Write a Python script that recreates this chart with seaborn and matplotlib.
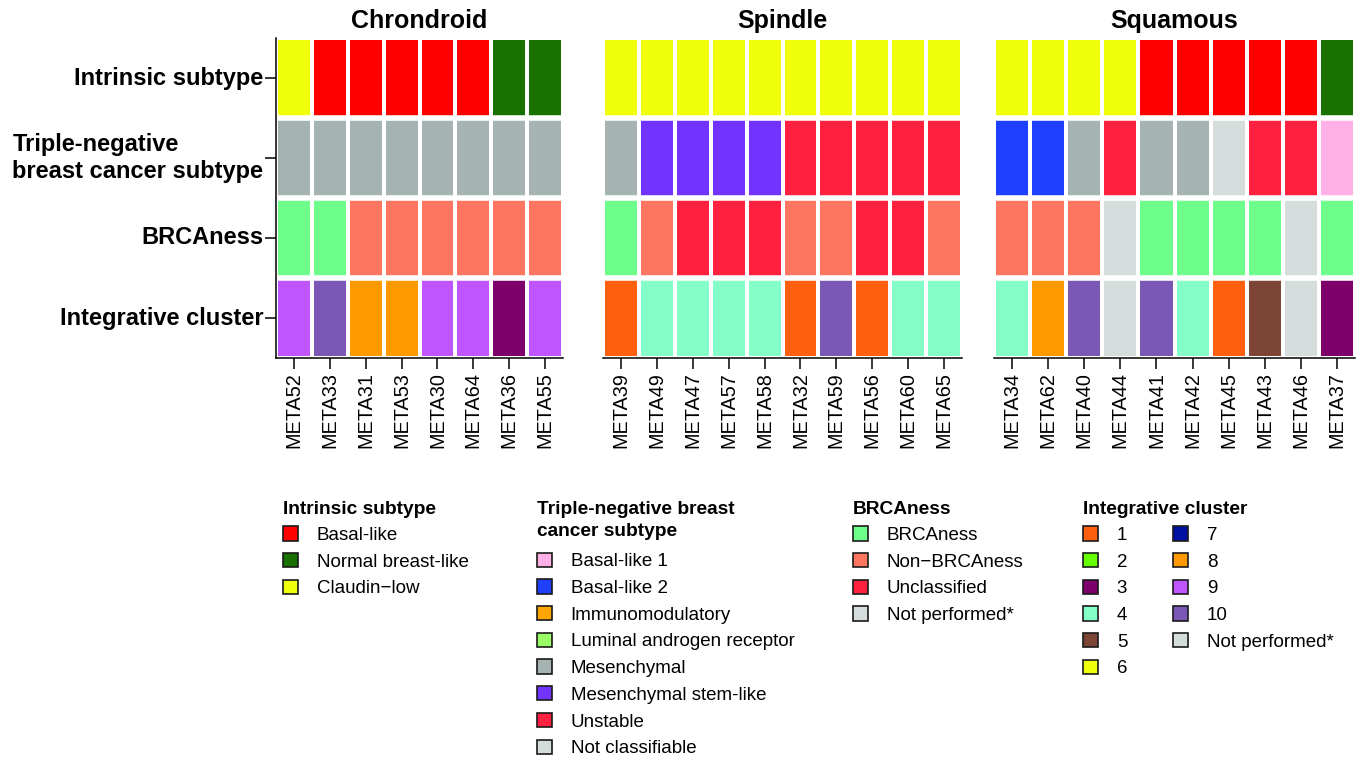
import numpy as np
import pandas as pd
import matplotlib
matplotlib.use("Agg")
import matplotlib.pyplot as plt
import seaborn as sns
from matplotlib.colors import ListedColormap
from matplotlib.patches import Patch

# ---- annotation tracks and groups -------------------------------------------
groups = ["Chrondroid", "Spindle", "Squamous"]
track_names = ["Intrinsic subtype", "Triple-negative\nbreast cancer subtype",
               "BRCAness", "Integrative cluster"]

chondroid_samples = ["META52", "META33", "META31", "META53", "META30", "META64", "META36", "META55"]
chondroid_intrinsic = ["Claudin−low", "Basal-like", "Basal-like", "Basal-like", "Basal-like",
                       "Basal-like", "Normal breast-like", "Normal breast-like"]
chondroid_tnbc = ["Mesenchymal"] * 8
chondroid_brca = ["BRCAness", "BRCAness", "Non−BRCAness", "Non−BRCAness", "Non−BRCAness",
                  "Non−BRCAness", "Non−BRCAness", "Non−BRCAness"]
chondroid_ic = ["9", "10", "8", "8", "9", "9", "3", "9"]

spindle_samples = ["META39", "META49", "META47", "META57", "META58", "META32", "META59",
                   "META56", "META60", "META65"]
spindle_intrinsic = ["Claudin−low"] * 10
spindle_tnbc = ["Mesenchymal", "Mesenchymal stem-like", "Mesenchymal stem-like",
                "Mesenchymal stem-like", "Mesenchymal stem-like", "Unstable", "Unstable",
                "Unstable", "Unstable", "Unstable"]
spindle_brca = ["BRCAness", "Non−BRCAness", "Unclassified", "Unclassified", "Unclassified",
                "Non−BRCAness", "Non−BRCAness", "Unclassified", "Unclassified", "Non−BRCAness"]
spindle_ic = ["1", "4", "4", "4", "4", "1", "10", "1", "4", "4"]

squamous_samples = ["META34", "META62", "META40", "META44", "META41", "META42", "META45",
                    "META43", "META46", "META37"]
squamous_intrinsic = ["Claudin−low", "Claudin−low", "Claudin−low", "Claudin−low", "Basal-like",
                      "Basal-like", "Basal-like", "Basal-like", "Basal-like", "Normal breast-like"]
squamous_tnbc = ["Basal-like 2", "Basal-like 2", "Mesenchymal", "Unstable", "Mesenchymal",
                 "Mesenchymal", "Not classifiable", "Unstable", "Unstable", "Basal-like 1"]
squamous_brca = ["Non−BRCAness", "Non−BRCAness", "Non−BRCAness", "Not performed*", "BRCAness",
                 "BRCAness", "BRCAness", "BRCAness", "Not performed*", "BRCAness"]
squamous_ic = ["4", "8", "10", "Not performed*", "10", "4", "1", "5", "Not performed*", "3"]

# ---- category colours ---------------------------------------------------------
intrinsic_colors = {"Basal-like": "#FF0000", "Normal breast-like": "#177000",
                    "Claudin−low": "#F0FF0A"}
tnbc_colors = {"Basal-like 1": "#FFB0E6", "Basal-like 2": "#2040FF",
               "Immunomodulatory": "#FFA500", "Luminal androgen receptor": "#99FF66",
               "Mesenchymal": "#A6B3B3", "Mesenchymal stem-like": "#7333FF",
               "Unstable": "#FF2040", "Not classifiable": "#D4DCDC"}
brca_colors = {"BRCAness": "#6EFF8A", "Non−BRCAness": "#FF7660",
               "Unclassified": "#FF2040", "Not performed*": "#D4DCDC"}
ic_colors = {"1": "#FF6010", "2": "#66FF00", "3": "#7E006B", "4": "#85FFC8",
             "5": "#7D4535", "6": "#F0FF0A", "7": "#0010A0", "8": "#FF9900",
             "9": "#C055FF", "10": "#7B57B5", "Not performed*": "#D4DCDC"}
track_colors = [intrinsic_colors, tnbc_colors, brca_colors, ic_colors]

panels = [
    (chondroid_samples, [chondroid_intrinsic, chondroid_tnbc, chondroid_brca, chondroid_ic]),
    (spindle_samples, [spindle_intrinsic, spindle_tnbc, spindle_brca, spindle_ic]),
    (squamous_samples, [squamous_intrinsic, squamous_tnbc, squamous_brca, squamous_ic]),
]

# one shared palette: every (track, category) pair gets an integer code
palette_keys = [(t, c) for t, cmap in enumerate(track_colors) for c in cmap]
palette = [track_colors[t][c] for t, c in palette_keys]
code_of = {k: i for i, k in enumerate(palette_keys)}
cmap = ListedColormap(palette)

# ---- figure -------------------------------------------------------------------
sns.set_style("ticks")
plt.rcParams["font.family"] = ["Liberation Sans", "DejaVu Sans"]
plt.rcParams["text.color"] = "black"
plt.rcParams["axes.labelcolor"] = "black"
plt.rcParams["axes.edgecolor"] = "black"
plt.rcParams["xtick.color"] = "black"
plt.rcParams["ytick.color"] = "black"

W, H = 1370, 762
fig = plt.figure(figsize=(W / 100, H / 100), dpi=100)
panel_px = [(276, 563), (603, 962), (994, 1355)]
top_px, bottom_px = 38, 358

for p, ((samples, tracks), group, (x0, x1)) in enumerate(zip(panels, groups, panel_px)):
    ax = fig.add_axes([x0 / W, 1 - bottom_px / H, (x1 - x0) / W, (bottom_px - top_px) / H])
    codes = pd.DataFrame(
        [[code_of[(t, v)] for v in vals] for t, vals in enumerate(tracks)],
        index=track_names, columns=samples)
    sns.heatmap(codes, ax=ax, cmap=cmap, vmin=-0.5, vmax=len(palette) - 0.5,
                cbar=False, linewidths=1.6, linecolor="white", square=False)
    for yline in range(1, len(track_names)):
        ax.axhline(yline, color="white", lw=4.0)
    ax.set_xlabel("")
    ax.set_ylabel("")
    ax.set_title(group, fontsize=18, fontweight="bold", pad=7, color="black")
    ax.spines["bottom"].set_visible(True)
    ax.spines["bottom"].set_linewidth(1.1)
    ax.spines["top"].set_visible(False)
    ax.spines["right"].set_visible(False)
    ax.tick_params(axis="x", length=8, width=1.1, pad=2, labelsize=14.3,
                   labelrotation=90, colors="black")
    if p == 0:
        ax.spines["left"].set_visible(True)
        ax.spines["left"].set_linewidth(1.1)
        ax.tick_params(axis="y", length=8, width=1.1, pad=1, labelsize=17,
                       labelrotation=0, colors="black")
        for lab in ax.get_yticklabels():
            lab.set_fontweight("bold")
            lab.set_multialignment("left")
    else:
        ax.spines["left"].set_visible(False)
        ax.set_yticks([])

# ---- legends ------------------------------------------------------------------
legend_titles = ["Intrinsic subtype", "Triple-negative breast\ncancer subtype",
                 "BRCAness", "Integrative cluster"]
legend_x_px = [283, 537, 853, 1083]
legend_title_gap = [6, 9, 6, 6]
legend_top_px = 501
for cols, title, lx, ncol, gap in zip(track_colors, legend_titles, legend_x_px,
                                      [1, 1, 1, 2], legend_title_gap):
    handles = [Patch(facecolor=c, edgecolor="#1a1a1a", linewidth=1.2, label=k)
               for k, c in cols.items()]
    leg = fig.legend(handles=handles, loc="upper left",
                     bbox_to_anchor=(lx / W, 1 - legend_top_px / H),
                     frameon=False, ncol=ncol, fontsize=13.5, title=title,
                     title_fontproperties={"weight": "bold", "size": 13.8},
                     alignment="left", handlelength=0.8, handleheight=0.8,
                     handletextpad=1.0, labelspacing=0.48, columnspacing=2.45,
                     borderpad=0, borderaxespad=0, labelcolor="black")
    leg.get_title().set_color("black")
    leg.get_title().set_linespacing(1.4)
    leg._legend_box.sep = gap

fig.savefig("out.png", dpi=100)
